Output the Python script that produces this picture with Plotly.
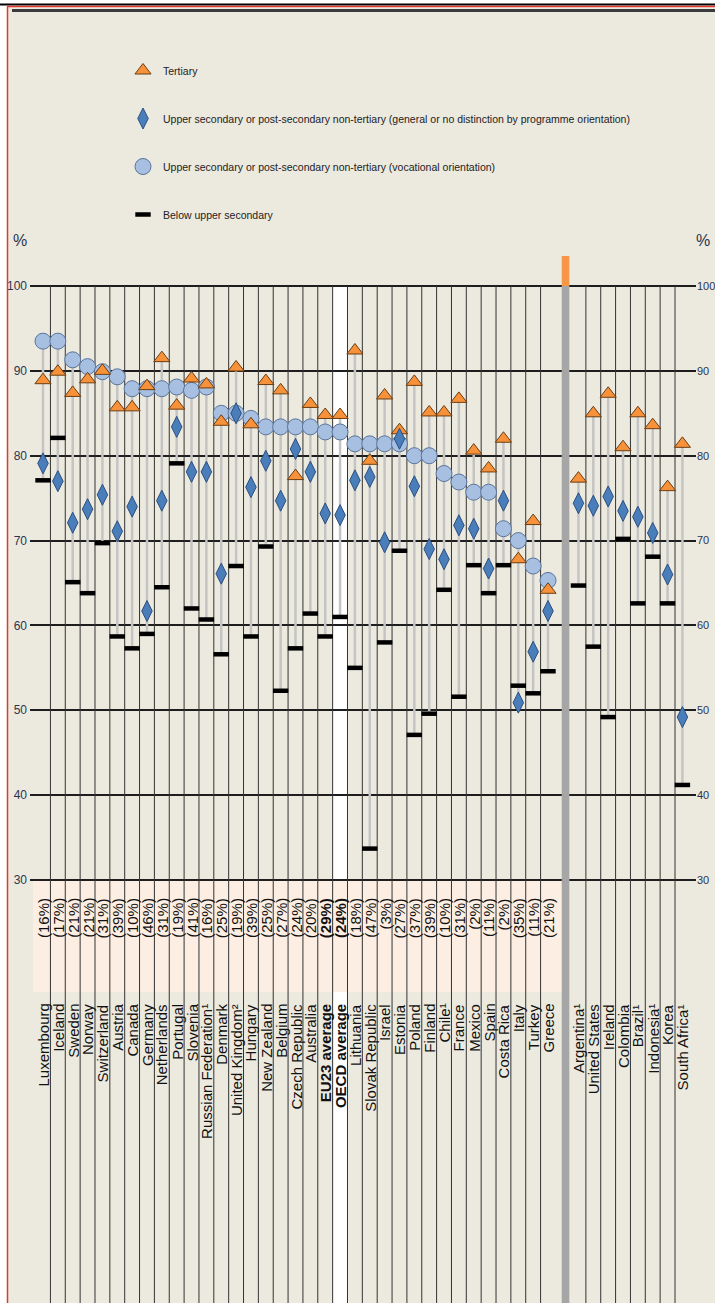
import plotly.graph_objects as go

W, H = 715, 1303
L, R = 30, 696  # pixel columns of the plot area

countries = ["Luxembourg", "Iceland", "Sweden", "Norway", "Switzerland", "Austria", "Canada",
             "Germany", "Netherlands", "Portugal", "Slovenia", "Russian Federation¹",
             "Denmark", "United Kingdom²", "Hungary", "New Zealand", "Belgium",
             "Czech Republic", "Australia", "EU23 average", "OECD average", "Lithuania",
             "Slovak Republic", "Israel", "Estonia", "Poland", "Finland", "Chile¹",
             "France", "Mexico", "Spain", "Costa Rica", "Italy", "Turkey", "Greece"]
partners = ["Argentina¹", "United States", "Ireland", "Colombia", "Brazil¹",
            "Indonesia¹", "Korea", "South Africa¹"]

# share of adults with vocational upper secondary (shown in brackets)
vocational_share = [16, 17, 21, 21, 31, 39, 10, 46, 31, 19, 41, 16, 25, 19, 39, 25, 27, 24, 20, 29,
                    24, 18, 47, 3, 27, 37, 39, 10, 31, 2, 11, 2, 35, 11, 21]

tertiary = [88.9, 89.9, 87.4, 89.0, 90.0, 85.7, 85.7, 88.2, 91.5, 85.9, 89.1, 88.4, 84.0, 90.4,
            83.7, 88.8, 87.7, 77.6, 86.1, 84.8, 84.8, 92.4, 79.4, 87.1, 83.0, 88.7, 85.1, 85.1,
            86.7, 80.6, 78.5, 82.0, 67.8, 72.3, 64.2,
            77.3, 85.0, 87.3, 81.0, 85.0, 83.6, 76.3, 81.4]
general = [79.1, 77.0, 72.1, 73.7, 75.4, 71.1, 74.0, 61.7, 74.7, 83.4, 78.1, 78.1, 66.1, 85.0,
           76.3, 79.4, 74.7, 80.8, 78.1, 73.2, 73.0, 77.1, 77.5, 69.8, 82.0, 76.4, 69.0, 67.8,
           71.8, 71.4, 66.7, 74.7, 50.9, 56.9, 61.7,
           74.4, 74.1, 75.2, 73.5, 72.8, 70.9, 66.0, 49.2]
vocational = [93.5, 93.5, 91.3, 90.5, 89.9, 89.3, 87.9, 87.9, 87.9, 88.1, 87.7, 88.1, 85.0, 85.0,
              84.4, 83.4, 83.4, 83.4, 83.4, 82.8, 82.8, 81.4, 81.4, 81.4, 81.4, 80.0, 80.0, 77.9,
              76.9, 75.7, 75.7, 71.4, 70.0, 67.0, 65.3]
below_upper = [77.1, 82.1, 65.1, 63.8, 69.7, 58.7, 57.3, 59.0, 64.5, 79.1, 62.0, 60.7, 56.6, 67.0,
               58.7, 69.3, 52.3, 57.3, 61.4, 58.7, 61.0, 55.0, 33.7, 58.0, 68.8, 47.1, 49.6, 64.2,
               51.6, 67.1, 63.8, 67.1, 52.9, 52.0, 54.6,
               64.7, 57.5, 49.2, 70.2, 62.6, 68.1, 62.6, 41.2]

BEIGE = "#ECE9DF"
SANS = "Liberation Sans, Arial, sans-serif"
AVERAGES = ("EU23 average", "OECD average")


def ydata(pixel):
    # pixel row -> value on the y scale (100 at row 286, 30 at row 880)
    return 100 - (pixel - 286) / 8.4857


def xdata(pixel):
    return (pixel - 43) / 14.853


def pxp(x):
    # pixel column -> paper x (paper spans the plot area only)
    return (x - L) / (R - L)


def pyp(y):
    return 1 - y / H


# column positions, partner countries set off after the grey separator
x_main = list(range(len(countries)))
x_partner = [36.05 + i for i in range(len(partners))]
x_all = x_main + x_partner
labels_all = countries + partners
sep_x = 35.18

fig = go.Figure()

# thin grey drop lines linking the values of each country
drop_x, drop_y = [], []
for i, xv in enumerate(x_all):
    vals = [tertiary[i], general[i], below_upper[i]]
    if i < len(vocational):
        vals.append(vocational[i])
    drop_x += [xv, xv, None]
    drop_y += [min(vals), max(vals), None]
fig.add_trace(go.Scatter(x=drop_x, y=drop_y, mode="lines", line=dict(color="#C4C4C4", width=2.5),
                         showlegend=False, hoverinfo="skip"))

fig.add_trace(go.Scatter(
    x=x_main, y=vocational, mode="markers", legendgroup="c", legendrank=3,
    name="Upper secondary or post-secondary non-tertiary (vocational orientation)",
    marker=dict(symbol="circle", size=16, color="#A7C0E2", line=dict(color="#5A7499", width=1))))
fig.add_trace(go.Scatter(
    x=x_all, y=tertiary, mode="markers", name="Tertiary", legendgroup="a", legendrank=1,
    marker=dict(symbol="triangle-up", size=14, color="#F7923A", line=dict(color="#6B3D12", width=1))))
fig.add_trace(go.Scatter(
    x=x_all, y=general, mode="markers", legendgroup="b", legendrank=2,
    name="Upper secondary or post-secondary non-tertiary (general or no distinction by programme orientation)",
    marker=dict(symbol="diamond-tall", size=15, color="#4A7EBB", line=dict(color="#2B4F80", width=1))))
fig.add_trace(go.Scatter(
    x=x_all, y=below_upper, mode="markers", name="Below upper secondary", legendgroup="d", legendrank=4,
    marker=dict(symbol="line-ew", size=11, color="black", line=dict(color="black", width=4.5))))
# empty trace so the mirrored right-hand axis gets drawn
fig.add_trace(go.Scatter(x=[None], y=[None], yaxis="y2", showlegend=False, hoverinfo="skip"))

shapes = []
# white OECD average column and pink band behind the bracketed shares
shapes.append(dict(type="rect", xref="x", yref="y", x0=19.5, x1=20.5, y0=ydata(H), y1=100,
                   fillcolor="white", line=dict(width=0), layer="below"))
shapes.append(dict(type="rect", xref="x", yref="y", x0=xdata(33), x1=sep_x - 0.256, y0=ydata(992), y1=30,
                   fillcolor="#FCEEE2", line=dict(width=0), layer="below"))
# column separators
for xv in [i + 0.5 for i in range(len(countries) - 1)] + [36.55 + i for i in range(len(partners) - 1)]:
    shapes.append(dict(type="line", xref="x", yref="y", x0=xv, x1=xv, y0=ydata(H), y1=100,
                       line=dict(color="#333333", width=1), layer="between"))
# grey separator with orange cap
shapes.append(dict(type="rect", xref="x", yref="y", x0=sep_x - 0.256, x1=sep_x + 0.256,
                   y0=ydata(H), y1=100, fillcolor="#A6A6A6", line=dict(width=0), layer="between"))
shapes.append(dict(type="rect", xref="x", yref="y", x0=sep_x - 0.256, x1=sep_x + 0.256, y0=100, y1=ydata(256),
                   fillcolor="#F79646", line=dict(width=0), layer="between"))
# page edge decorations
shapes.append(dict(type="rect", xref="paper", yref="paper", x0=pxp(0), x1=pxp(7), y0=0, y1=1,
                   fillcolor="white", line=dict(width=0)))
shapes.append(dict(type="rect", xref="paper", yref="paper", x0=pxp(0), x1=pxp(W), y0=pyp(6), y1=1,
                   fillcolor="white", line=dict(width=0)))
shapes.append(dict(type="line", xref="paper", yref="paper", x0=pxp(0), x1=pxp(W), y0=pyp(4.5), y1=pyp(4.5),
                   line=dict(color="black", width=2)))
shapes.append(dict(type="line", xref="paper", yref="paper", x0=pxp(7), x1=pxp(W), y0=pyp(6.5), y1=pyp(6.5),
                   line=dict(color="#E0392F", width=1.5)))
shapes.append(dict(type="line", xref="paper", yref="paper", x0=pxp(7.5), x1=pxp(7.5), y0=0, y1=pyp(6.5),
                   line=dict(color="#E0392F", width=1.5)))
shapes.append(dict(type="line", xref="paper", yref="paper", x0=pxp(12), x1=pxp(W), y0=pyp(10.5), y1=pyp(10.5),
                   line=dict(color="#3A3A3A", width=3)))

annotations = []
for side_x in (20, 703):
    annotations.append(dict(text="%", x=pxp(side_x), y=pyp(240), xref="paper", yref="paper",
                            xanchor="center", yanchor="middle", showarrow=False,
                            font=dict(family=SANS, size=16, color="#2C3550")))
for i, name in enumerate(labels_all):
    weight = "bold" if name in AVERAGES else "normal"
    annotations.append(dict(text=name, x=x_all[i], y=ydata(1002),
                            xref="x", yref="y", yanchor="top", xanchor="center", textangle=-90,
                            showarrow=False, font=dict(family=SANS, size=15, color="#111111", weight=weight)))
for i, share in enumerate(vocational_share):
    weight = "bold" if countries[i] in AVERAGES else "normal"
    annotations.append(dict(text="(%d%%)" % share, x=x_main[i], y=ydata(896),
                            xref="x", yref="y", yanchor="top", xanchor="center", textangle=-90,
                            showarrow=False, font=dict(family=SANS, size=15, color="#111111", weight=weight)))

ticks = [30, 40, 50, 60, 70, 80, 90, 100]
yrange = [ydata(H), ydata(0)]

fig.update_layout(
    width=W, height=H,
    margin=dict(l=L, r=W - R, t=0, b=0, autoexpand=False),
    paper_bgcolor=BEIGE, plot_bgcolor="rgba(0,0,0,0)",
    showlegend=True,
    legend=dict(x=pxp(123), y=pyp(56), xanchor="left", yanchor="top", bgcolor="rgba(0,0,0,0)",
                traceorder="grouped", tracegroupgap=29, itemwidth=30,
                font=dict(family=SANS, size=10.5, color="#222222")),
    xaxis=dict(range=[xdata(L), xdata(R)], showgrid=False, zeroline=False, showticklabels=False,
               ticks="", showline=False),
    yaxis=dict(range=yrange, tickvals=ticks, showgrid=True, gridcolor="#1E1E1E", gridwidth=2,
               zeroline=False, showline=False, ticks="", ticklabelstandoff=2,
               tickfont=dict(family=SANS, size=12, color="#2C3550")),
    yaxis2=dict(range=yrange, tickvals=ticks, overlaying="y", side="right", showgrid=False,
                zeroline=False, showline=False, ticks="", ticklabelstandoff=0,
                tickfont=dict(family=SANS, size=11, color="#2C3550")),
    shapes=shapes,
    annotations=annotations,
)

# drop the browser's default page margin so the figure fills the window exactly
fig.write_html("out.html", config={"displayModeBar": False},
               post_script="document.body.style.margin = '0px';")
